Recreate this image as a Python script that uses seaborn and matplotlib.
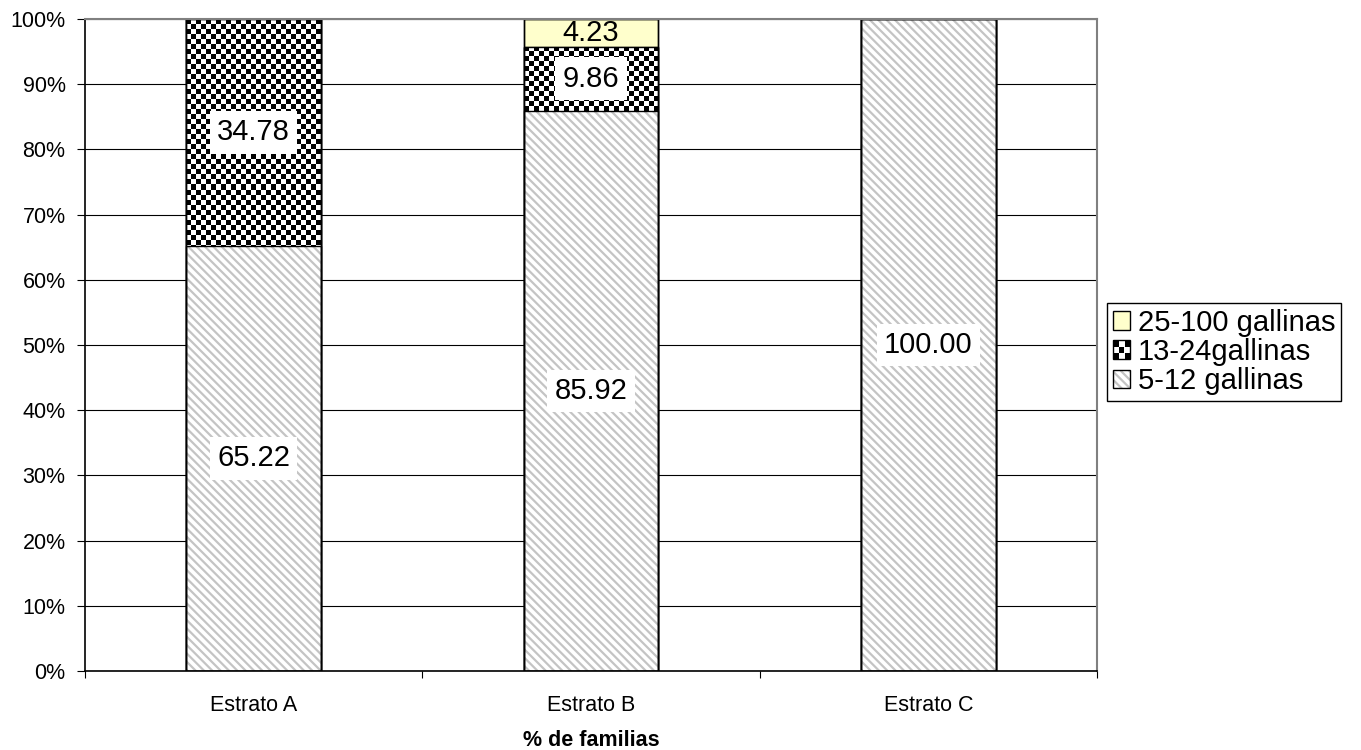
import numpy as np
import pandas as pd
import matplotlib
matplotlib.use("Agg")
import matplotlib.pyplot as plt
from matplotlib.patches import Rectangle
from matplotlib.legend_handler import HandlerBase
import seaborn as sns

# ---- data ----
categories = ["Estrato A", "Estrato B", "Estrato C"]
s_5_12 = [65.22, 85.92, 100.00]
s_13_24 = [34.78, 9.86, 0.0]
s_25_100 = [0.0, 4.23, 0.0]
series_names = ["5-12 gallinas", "13-24gallinas", "25-100 gallinas"]
yticks = list(range(0, 101, 10))
ytick_labels = [f"{v}%" for v in yticks]
xlabel = "% de familias"

sns.set_theme(style="white")
plt.rcParams['font.family'] = ['Liberation Sans', 'DejaVu Sans']
plt.rcParams['hatch.linewidth'] = 1.6
for k in ("text.color", "axes.labelcolor", "xtick.color", "ytick.color"):
    plt.rcParams[k] = "black"

YELLOW = "#FFFFCC"
STRIPE = "#C4C4C4"
HATCH = "\\\\\\\\"
CHECK_PX = 5.0

fig = plt.figure(figsize=(13.61, 7.5), dpi=100)
ax = fig.add_axes([85/1361, 79/750, (1097-85)/1361, (671-19)/750])

b1 = np.array(s_5_12)
b2 = b1 + np.array(s_13_24)
b3 = b2 + np.array(s_25_100)

df = pd.DataFrame({"cat": categories, "top": b3, "mid": b2, "bot": b1})

# top segment (yellow)
sns.barplot(data=df, x="cat", y="top", color=YELLOW, saturation=1, width=0.4,
            edgecolor="black", linewidth=1, ax=ax, zorder=2)
top_bars = list(ax.containers[-1])
# middle segment (checker)
sns.barplot(data=df, x="cat", y="mid", color="white", saturation=1, width=0.4,
            edgecolor="black", linewidth=1, ax=ax, zorder=2.1)
mid_bars = list(ax.containers[-1])
# bottom segment (stripes)
sns.barplot(data=df, x="cat", y="bot", color="white", saturation=1, width=0.4,
            edgecolor=STRIPE, linewidth=0, hatch=HATCH, ax=ax, zorder=2.5)
bot_bars = list(ax.containers[-1])

ax.set_xlim(-0.5, 2.5)
ax.set_ylim(0, 100)

# checker fill clipped to the middle bars
fig.canvas.draw()
for p in mid_bars:
    x0, y0 = p.get_x(), p.get_y()
    w, h = p.get_width(), p.get_height()
    if h <= 0:
        continue
    (px0, py0) = ax.transData.transform((x0, y0))
    (px1, py1) = ax.transData.transform((x0 + w, y0 + h))
    nx = max(1, int(round((px1 - px0) / CHECK_PX)))
    ny = max(1, int(round((py1 - py0) / CHECK_PX)))
    ii, jj = np.indices((ny, nx))
    img = ((ii + jj) % 2).astype(float)
    im = ax.imshow(img, cmap="gray", vmin=0, vmax=1, extent=(x0, x0 + w, y0, y0 + h),
                   origin="upper", interpolation="nearest", aspect="auto", zorder=2.2)
    im.set_clip_path(p)

# outlines
for group in (top_bars, mid_bars, bot_bars):
    for p in group:
        if p.get_height() > 0:
            ax.add_patch(Rectangle((p.get_x(), p.get_y()), p.get_width(), p.get_height(),
                                   fill=False, edgecolor="black", linewidth=1, zorder=3))

ax.set_xlim(-0.5, 2.5)
ax.set_ylim(0, 100)

# data labels
bottoms = [np.zeros(3), b1, b2]
values = [s_5_12, s_13_24, s_25_100]
for k, (vals, bots) in enumerate(zip(values, bottoms)):
    for i, v in enumerate(vals):
        if v <= 0:
            continue
        yc = bots[i] + v / 2
        if k == 2:
            ax.text(i, yc, f"{v:.2f}", ha="center", va="center", fontsize=21, zorder=5,
                    color="black")
        else:
            ax.text(i, yc, f"{v:.2f}", ha="center", va="center", fontsize=21, zorder=5,
                    color="black",
                    bbox=dict(boxstyle="square,pad=0.25", facecolor="white", edgecolor="none"))

# axes styling
ax.set_yticks(yticks)
ax.set_yticklabels(ytick_labels)
ax.yaxis.grid(True, color="black", linewidth=0.8)
ax.set_axisbelow(True)
ax.tick_params(axis="y", which="major", left=True, length=6, width=0.8, color="black",
               pad=8, labelsize=15.5, labelcolor="black", direction="out")
ax.set_xticks(range(len(categories)))
ax.set_xticklabels(categories)
ax.set_xticks([-0.5, 0.5, 1.5, 2.5], minor=True)
ax.tick_params(axis="x", which="major", length=0, pad=17, labelsize=15.5, labelcolor="black")
ax.tick_params(axis="x", which="minor", bottom=True, length=5, width=0.8, color="black",
               direction="out")
ax.set_xlabel(xlabel, fontsize=15.5, fontweight="bold", labelpad=10, color="black")
ax.set_ylabel("")
for side in ("left", "bottom"):
    ax.spines[side].set_color("black")
    ax.spines[side].set_linewidth(1.2)
for side in ("top", "right"):
    ax.spines[side].set_color("#808080")
    ax.spines[side].set_linewidth(1.5)
    ax.spines[side].set_visible(True)
for s in ax.spines.values():
    s.set_zorder(4)


# legend
class SwatchHandler(HandlerBase):
    def __init__(self, kind):
        super().__init__()
        self.kind = kind

    def create_artists(self, legend, orig_handle, xdescent, ydescent, width, height,
                       fontsize, trans):
        x0, y0 = -xdescent, -ydescent
        arts = []
        if self.kind == "yellow":
            arts.append(Rectangle((x0, y0), width, height, facecolor=YELLOW,
                                  edgecolor="black", linewidth=1, transform=trans))
        elif self.kind == "checker":
            arts.append(Rectangle((x0, y0), width, height, facecolor="white",
                                  edgecolor="none", transform=trans))
            n = 3
            for i in range(n):
                for j in range(n):
                    if (i + j) % 2 == 0:
                        arts.append(Rectangle((x0 + j * width / n, y0 + i * height / n),
                                              width / n, height / n, facecolor="black",
                                              edgecolor="none", transform=trans))
            arts.append(Rectangle((x0, y0), width, height, fill=False,
                                  edgecolor="black", linewidth=1, transform=trans))
        else:
            arts.append(Rectangle((x0, y0), width, height, facecolor="white",
                                  edgecolor=STRIPE, linewidth=0, hatch=HATCH, transform=trans))
            arts.append(Rectangle((x0, y0), width, height, fill=False,
                                  edgecolor="black", linewidth=1, transform=trans))
        return arts


h_y = Rectangle((0, 0), 1, 1)
h_c = Rectangle((0, 0), 1, 1)
h_s = Rectangle((0, 0), 1, 1)
leg = fig.legend([h_y, h_c, h_s], [series_names[2], series_names[1], series_names[0]],
                 handler_map={h_y: SwatchHandler("yellow"), h_c: SwatchHandler("checker"),
                              h_s: SwatchHandler("stripe")},
                 loc="center left", bbox_to_anchor=(1107/1361, 1 - 352/750),
                 fontsize=21, frameon=True, fancybox=False, shadow=False,
                 handlelength=0.6, handleheight=0.6, handletextpad=0.25,
                 labelspacing=0.05, borderpad=0.2, borderaxespad=0)
leg.get_frame().set_edgecolor("black")
leg.get_frame().set_linewidth(1)
leg.get_frame().set_alpha(None)

fig.savefig("out.png", dpi=100)
